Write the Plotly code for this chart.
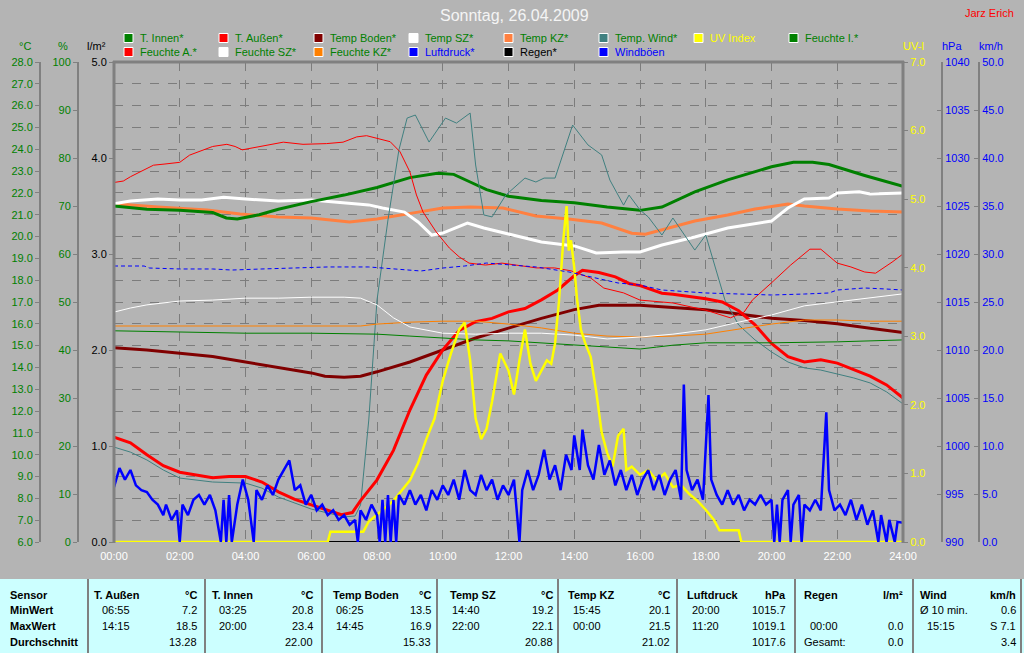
import plotly.graph_objects as go

W, H = 1024, 653

def hrs(ts):
    return [int(t[:2]) + int(t[3:]) / 60 for t in ts]

# ---------------- data ----------------
x_tickvals = [0, 2, 4, 6, 8, 10, 12, 14, 16, 18, 20, 22, 24]
x_ticktext = ["00:00", "02:00", "04:00", "06:00", "08:00", "10:00", "12:00",
              "14:00", "16:00", "18:00", "20:00", "22:00", "24:00"]

t_innen_t = ["00:00","01:00","02:00","03:00","03:25","03:45","04:25","05:00","06:00","07:00","08:00","09:00",
             "09:50","10:20","10:50","11:20","12:00","13:00","14:00","15:00","16:00","16:40","17:40","18:40",
             "20:00","20:40","21:15","21:45","22:50","24:00"]
t_innen_v = [21.4,21.25,21.2,21.1,20.85,20.8,21.0,21.25,21.6,21.9,22.25,22.7,
             22.9,22.85,22.5,22.15,21.85,21.65,21.55,21.35,21.2,21.35,22.05,22.6,
             23.2,23.4,23.4,23.3,22.8,22.3]

t_aussen_t = ["00:00","00:30","01:00","01:30","02:00","03:00","03:30","04:00","04:30","05:00","05:30","06:00",
              "06:30","06:55","07:15","07:30","08:00","08:30","09:00","09:30","10:00","10:30","11:00","11:30",
              "12:00","12:30","13:00","13:30","14:00","14:15","14:45","15:15","15:40","16:00","16:40","17:00",
              "18:00","18:30","19:00","19:30","20:00","20:30","21:00","21:30","22:00","22:30","23:00","23:30","24:00"]
t_aussen_v = [10.8,10.55,10.0,9.5,9.2,8.95,9.0,9.0,8.75,8.3,7.95,7.7,
              7.45,7.25,7.35,7.9,8.85,10.2,12.05,13.65,14.8,15.7,16.1,16.25,
              16.55,16.7,17.1,17.55,18.2,18.45,18.35,18.15,17.85,17.75,17.4,17.35,
              17.15,17.0,16.6,15.95,15.1,14.5,14.25,14.35,14.2,13.9,13.6,13.2,12.6]

t_boden_t = ["00:00","01:00","02:00","03:00","04:00","05:00","06:00","06:25","07:00","07:30","08:00","09:00",
             "10:00","11:00","12:00","13:00","14:00","14:45","16:00","17:00","18:00","19:00","20:00","21:00",
             "22:00","23:00","24:00"]
t_boden_v = [14.9,14.8,14.65,14.5,14.25,14.0,13.75,13.6,13.55,13.6,13.8,14.25,
             14.8,15.35,15.8,16.25,16.65,16.85,16.85,16.75,16.65,16.45,16.25,16.15,
             16.0,15.8,15.6]

t_sz_t = ["00:00","00:30","01:20","02:00","02:40","03:20","04:00","05:00","06:00","07:00","07:45","08:10",
          "08:50","09:15","09:40","10:00","10:45","11:15","12:00","13:00","14:00","14:40","15:30","16:00",
          "16:40","17:40","18:40","19:30","20:00","20:30","21:00","21:45","22:00","22:40","23:00","24:00"]
t_sz_v = [21.5,21.63,21.72,21.67,21.67,21.8,21.72,21.63,21.67,21.54,21.45,21.31,
          21.12,20.67,20.07,20.16,20.62,20.39,20.12,19.75,19.57,19.25,19.29,19.29,
          19.61,19.98,20.39,20.57,20.71,21.31,21.72,21.77,22.0,22.05,21.95,22.0]

t_kz_t = ["00:00","01:20","02:50","03:50","05:00","06:00","07:10","08:00","09:15","10:00","10:50","11:50",
          "12:50","13:50","14:50","15:45","16:10","16:40","17:40","18:40","19:30","20:30","21:00","22:00",
          "23:00","24:00"]
t_kz_v = [21.5,21.35,21.22,21.03,20.9,20.85,20.67,20.8,21.12,21.31,21.35,21.31,
          20.94,20.8,20.62,20.15,20.11,20.3,20.71,20.99,21.26,21.49,21.4,21.26,
          21.17,21.12]

t_wind_t = ["00:00","00:30","01:00","01:30","02:00","03:00","04:00","04:30","05:00","06:00","06:30","07:00",
            "07:20","07:30","07:45","08:00","08:20","08:40","08:55","09:10","09:35","10:05","10:25","10:50",
            "11:00","11:15","11:30","11:55","12:30","12:50","13:05","13:25","13:57","14:25","14:50","15:05",
            "15:30","15:40","16:00","16:15","16:40","17:00","17:40","18:00","18:35","19:00","19:30","20:00",
            "20:30","21:00","21:30","22:00","22:30","23:00","23:30","24:00"]
t_wind_v = [10.35,10.12,9.76,9.3,8.93,8.75,8.7,8.47,8.06,7.51,7.33,7.15,
            7.19,7.7,11.59,17.09,20.76,23.97,25.43,25.57,24.33,25.43,25.2,25.66,
            23.28,20.99,20.9,21.9,22.68,22.5,22.68,22.68,25.11,24.2,23.74,22.59,
            21.44,21.9,21.22,20.9,20.07,20.85,19.38,20.07,17.09,15.95,15.26,14.71,
            14.25,13.98,13.88,13.7,13.52,13.29,12.88,12.33]

uv_t = ["00:00","06:30","06:35","07:35","07:45","08:00","08:30","09:00","09:15","09:30","09:45","10:00",
        "10:15","10:30","10:40","10:50","11:00","11:10","11:20","11:30","11:45","12:00","12:10","12:20",
        "12:30","12:40","12:50","13:00","13:10","13:18","13:25","13:32","13:40","13:46","13:50","13:54",
        "14:00","14:05","14:12","14:20","14:30","14:40","14:50","15:00","15:10","15:20","15:30","15:35",
        "15:45","16:00","16:15","16:30","16:45","17:00","17:15","17:30","17:45","18:00","18:15","18:25",
        "19:00","19:05","24:00"]
uv_v = [0,0,0.15,0.15,0.3,0.4,0.6,0.9,1.15,1.5,1.8,2.35,
        2.75,3.1,3.2,2.65,1.8,1.5,1.65,2.05,2.75,2.5,2.15,2.65,
        3.1,2.6,2.35,2.5,2.65,2.6,2.9,3.5,4.4,4.9,4.25,4.4,
        4.0,3.55,3.1,2.9,2.7,2.2,1.6,1.3,1.1,1.55,1.65,1.05,
        1.1,0.98,1.05,0.9,1.0,0.8,0.83,0.7,0.6,0.47,0.32,0.17,
        0.17,0,0]

f_innen_t = ["00:00","02:00","04:00","06:00","08:00","09:00","10:00","11:00","12:00","13:00","14:00","15:00",
             "16:00","16:30","17:00","18:00","20:00","22:00","24:00"]
f_innen_v = [44.0,43.75,43.5,43.5,43.3,42.9,42.5,42.1,41.9,41.5,41.0,40.6,
             40.2,40.6,41.0,41.5,41.5,41.7,42.1]

f_aussen_t = ["00:00","00:17","00:30","00:54","01:12","01:33","02:00","02:18","02:40","03:00","03:26","03:41",
              "03:54","04:08","04:38","05:09","05:45","06:28","06:58","07:23","07:41","08:05","08:24","08:42",
              "09:00","09:12","09:24","09:48","10:12","10:30","10:48","11:18","11:48","12:51","13:24","13:54",
              "14:30","14:54","15:30","16:00","17:00","18:00","18:45","19:10","19:25","20:00","20:35","21:10",
              "21:30","22:00","22:25","22:50","23:10","23:40","24:00"]
f_aussen_v = [74.9,75.2,76.1,77.5,78.5,78.75,79.1,80.6,81.5,82.4,82.85,82.4,
              81.7,82.0,82.6,83.3,82.85,83.0,83.3,84.4,84.65,84.0,83.4,81.3,
              77.1,72.3,68.75,64.6,61.25,59.4,58.1,57.7,58.1,57.1,57.1,56.5,
              55.0,52.9,51.9,50.4,49.8,48.3,46.7,47.9,50.4,54.0,57.7,61.0,
              61.0,58.1,57.3,56.25,56.0,58.3,60.0]

f_sz_t = ["00:00","00:30","01:00","02:00","03:00","04:00","05:00","06:00","07:00","07:30","08:00","08:30",
          "09:00","09:30","10:00","11:00","12:00","13:00","14:00","15:00","16:00","17:00","18:00","19:00",
          "20:00","21:00","22:00","23:00","24:00"]
f_sz_v = [47.9,48.75,49.4,50.2,50.4,50.8,50.8,51.0,51.0,50.8,49.4,46.7,
          44.8,44.2,43.5,43.3,43.5,43.5,43.1,42.3,42.7,43.3,44.2,45.8,
          47.3,49.2,50.0,50.8,51.7]

f_kz_t = ["00:00","07:30","08:00","09:00","10:00","11:00","12:00","13:00","14:00","15:00","16:00","17:00",
          "18:00","19:00","20:00","21:00","22:00","23:00","24:00"]
f_kz_v = [45.0,45.0,45.4,45.8,46.0,46.0,45.4,44.6,43.5,42.9,42.7,42.9,
          43.3,44.4,45.4,46.25,46.25,46.0,46.0]

druck_t = ["00:00","00:55","01:05","02:00","03:00","03:35","04:30","05:30","06:30","07:45","08:30","09:20",
           "10:00","10:40","11:20","12:00","12:50","13:50","14:50","15:20","16:00","16:40","18:00","19:00",
           "20:00","21:00","21:45","22:00","22:50","23:30","24:00"]
druck_v = [1018.75,1018.75,1018.54,1018.44,1018.44,1018.33,1018.44,1018.54,1018.65,1018.65,1018.44,1018.23,
           1018.54,1018.75,1019.06,1018.85,1018.65,1018.13,1017.4,1016.98,1016.77,1016.25,1015.94,1015.83,
           1015.73,1015.83,1015.94,1016.25,1016.46,1016.35,1016.25]

regen_t = ["00:00", "24:00"]
regen_v = [0.0, 0.0]

boen_t = ["00:00","00:05","00:10","00:20","00:30","00:40","00:50","01:00","01:10","01:20","01:30","01:35",
          "01:45","01:55","02:00","02:05","02:15","02:25","02:35","02:45","02:55","03:05","03:15","03:20",
          "03:25","03:30","03:35","03:45","03:55","04:05","04:15","04:20","04:30","04:40","04:50","05:00",
          "05:10","05:20","05:30","05:40","05:50","06:00","06:10","06:20","06:30","06:40","06:50","07:00",
          "07:10","07:20","07:25","07:30","07:40","07:50","08:00","08:05","08:10","08:15","08:20","08:25",
          "08:30","08:35","08:40","08:50","09:00","09:10","09:20","09:30","09:40","09:50","10:00","10:10",
          "10:20","10:30","10:40","10:50","11:00","11:10","11:20","11:30","11:40","11:50","12:00","12:10",
          "12:20","12:25","12:35","12:45","12:55","13:05","13:15","13:25","13:35","13:45","13:55","14:00",
          "14:10","14:15","14:25","14:35","14:45","14:55","15:05","15:15","15:25","15:35","15:45","15:55",
          "16:05","16:15","16:25","16:35","16:45","16:55","17:05","17:15","17:20","17:25","17:35","17:45",
          "17:55","18:05","18:10","18:20","18:30","18:40","18:50","19:00","19:10","19:20","19:30","19:40",
          "19:50","20:00","20:05","20:10","20:15","20:20","20:30","20:35","20:40","20:50","20:55","21:00",
          "21:10","21:20","21:30","21:40","21:45","21:55","22:05","22:15","22:25","22:35","22:45","22:55",
          "23:05","23:15","23:20","23:30","23:35","23:45","23:50","24:00"]
boen_v = [5.7,6.7,7.7,6.5,7.5,5.9,5.4,5.2,4.4,3.9,2.8,3.9,
          2.3,3.3,0,3.9,2.8,4.4,4.9,3.9,4.9,3.3,0,4.4,
          0,4.9,0,3.9,6.5,4.4,0,5.4,4.4,5.9,4.9,6.5,
          7.5,8.5,5.4,5.9,3.9,4.9,3.3,3.9,2.8,3.3,2.3,2.8,
          1.8,2.3,0,3.3,2.3,3.9,2.8,0,4.4,0,4.9,0,
          4.4,0,4.9,3.9,5.4,3.9,4.9,3.3,5.4,4.4,5.9,4.9,
          6.5,4.4,7.5,5.4,4.9,7.0,5.4,6.5,4.4,5.9,4.9,6.5,
          0,5.4,7.5,5.4,7.0,9.6,6.5,8.0,5.4,9.1,7.5,11.1,
          7.5,11.7,8.0,6.5,10.1,7.0,8.5,5.9,7.5,5.4,7.0,4.9,
          6.5,7.5,5.4,7.0,4.9,6.5,7.5,4.4,16.4,7.5,5.4,6.5,
          4.4,15.3,6.5,4.9,3.9,5.4,3.9,4.9,3.3,4.4,3.9,4.9,
          3.9,4.4,0,3.9,0,4.4,5.4,0,3.9,4.9,0,3.9,
          3.3,4.4,3.3,13.5,5.4,3.3,3.9,2.8,4.4,2.3,3.9,1.8,
          3.3,0,2.8,0,2.3,0,2.1,2.0]

legend_row1 = ["T. Innen*", "T. Außen*", "Temp Boden*", "Temp SZ*", "Temp KZ*", "Temp. Wind*", "UV Index", "Feuchte I.*"]
legend_row1_swatch = ["#008000", "#FF0000", "#800000", "#FFFFFF", "#FF8040", "#408080", "#FFFF00", "#008000"]
legend_row1_text = ["#008000"] * 6 + ["#FFFF00", "#008000"]
legend_row2 = ["Feuchte A.*", "Feuchte SZ*", "Feuchte KZ*", "Luftdruck*", "Regen*", "Windböen"]
legend_row2_swatch = ["#FF0000", "#FFFFFF", "#FF8000", "#0000FF", "#000000", "#0000FF"]
legend_row2_text = ["#008000", "#008000", "#008000", "#0000FF", "#000000", "#0000FF"]

table_headers = ["Sensor", "T. Außen", "T. Innen", "Temp Boden", "Temp SZ", "Temp KZ", "Luftdruck", "Regen", "Wind"]
table_units = ["", "°C", "°C", "°C", "°C", "°C", "hPa", "l/m²", "km/h"]
row_labels = ["MinWert", "MaxWert", "Durchschnitt"]
min_time = ["06:55", "03:25", "06:25", "14:40", "15:45", "20:00", "", "Ø 10 min."]
min_val = ["7.2", "20.8", "13.5", "19.2", "20.1", "1015.7", "", "0.6"]
max_time = ["14:15", "20:00", "14:45", "22:00", "00:00", "11:20", "00:00", "15:15"]
max_val = ["18.5", "23.4", "16.9", "22.1", "21.5", "1019.1", "0.0", "S 7.1"]
avg_label = ["", "", "", "", "", "", "Gesamt:", ""]
avg_val = ["13.28", "22.00", "15.33", "20.88", "21.02", "1017.6", "0.0", "3.4"]

# ---------------- figure ----------------
FONT = "Liberation Sans, Arial, sans-serif"
BG = "#B4B4B4"
GRID = "#7C7C7C"

def px(x):
    return x / W

def py(y):
    return 1 - y / H

fig = go.Figure()

def add(ts, vs, color, width, axis, dash=None):
    fig.add_trace(go.Scatter(x=hrs(ts), y=vs, mode="lines", yaxis=axis,
                             line=dict(color=color, width=width, dash=dash),
                             showlegend=False, hoverinfo="skip"))

add(f_innen_t, f_innen_v, "#008000", 1, "y2")
add(f_kz_t, f_kz_v, "#FF8000", 1, "y2")
add(f_sz_t, f_sz_v, "#FFFFFF", 1, "y2")
add(f_aussen_t, f_aussen_v, "#FF0000", 1, "y2")
add(druck_t, druck_v, "#0000FF", 1, "y5", dash="4px,3px")
add(t_boden_t, t_boden_v, "#800000", 3, "y")
add(t_kz_t, t_kz_v, "#FF8040", 3, "y")
add(t_sz_t, t_sz_v, "#FFFFFF", 3, "y")
add(t_innen_t, t_innen_v, "#008000", 3, "y")
add(t_wind_t, t_wind_v, "#408080", 1, "y")
add(t_aussen_t, t_aussen_v, "#FF0000", 3, "y")
add(regen_t, regen_v, "#000000", 2, "y3")
add(uv_t, uv_v, "#FFFF00", 2.5, "y4")
add(boen_t, boen_v, "#0000FF", 2.5, "y6")

top, bot = 62, 542
dom = [py(bot), py(top)]
axfont = dict(family=FONT, size=11)

def yax(rng, dtick, pos, side, color, fmt, grid=False, ticks="outside", overlay=True, tick0=None):
    d = dict(range=rng, dtick=dtick, anchor="free", position=pos, side=side, automargin=False,
             showline=True, linecolor="#808080", linewidth=2, ticks=ticks, ticklen=4,
             tickcolor="#808080", tickwidth=1, zeroline=False, showgrid=grid,
             tickformat=fmt, tickfont=dict(axfont, color=color), fixedrange=True)
    if tick0 is not None:
        d["tick0"] = tick0
    if grid:
        d.update(gridcolor=GRID, griddash="dash", gridwidth=1)
    if overlay:
        d["overlaying"] = "y"
    else:
        d["domain"] = dom
    return d

fig.update_layout(
    width=W, height=H, autosize=False,
    margin=dict(l=0, r=0, t=0, b=0, pad=0, autoexpand=False),
    paper_bgcolor=BG, plot_bgcolor=BG,
    xaxis=dict(domain=[px(114), px(903)], range=[0, 24], tickvals=x_tickvals, ticktext=x_ticktext,
               automargin=False, showgrid=True, gridcolor=GRID, griddash="dash", gridwidth=1, zeroline=False,
               showline=False, ticks="", ticklabelstandoff=6,
               tickfont=dict(axfont, color="#FFFFFF"), fixedrange=True),
    yaxis=yax([6, 28], 1, px(40), "left", "#008000", ".1f", grid=True, overlay=False, tick0=6),
    yaxis2=yax([0, 100], 10, px(78), "left", "#008000", "d"),
    yaxis3=yax([0, 5], 1, px(114), "left", "#000000", ".1f"),
    yaxis4=yax([0, 7], 1, px(903), "right", "#FFFF00", ".1f"),
    yaxis5=yax([990, 1040], 5, px(942), "right", "#0000FF", "d", ticks="inside"),
    yaxis6=yax([0, 50], 5, px(979), "right", "#0000FF", ".1f", ticks="inside"),
)

shapes = []
# plot frame (left, top, right)
for (x0, y0, x1, y1) in [(114, 61, 114, 543), (113, 62, 904, 62), (903, 61, 903, 543)]:
    shapes.append(dict(type="line", xref="paper", yref="paper", x0=px(x0), y0=py(y0), x1=px(x1), y1=py(y1),
                       line=dict(color="#808080", width=3), layer="above"))

annotations = []
# title and author
annotations.append(dict(text="Sonntag, 26.04.2009", x=px(514), y=py(15), xref="paper", yref="paper",
                        showarrow=False, font=dict(family=FONT, size=16, color="#F4F4F4"),
                        xanchor="center", yanchor="middle"))
annotations.append(dict(text="Jarz Erich", x=px(1016), y=py(13), xref="paper", yref="paper",
                        showarrow=False, font=dict(family=FONT, size=11, color="#FF0000"),
                        xanchor="right", yanchor="middle"))
# axis unit titles
for txt_, xc, col in [("°C", 25, "#008000"), ("%", 63, "#008000"), ("l/m²", 96, "#000000"),
                      ("UV-I", 913, "#FFFF00"), ("hPa", 952, "#0000FF"), ("km/h", 991, "#0000FF")]:
    annotations.append(dict(text=txt_, x=px(xc), y=py(46), xref="paper", yref="paper", showarrow=False,
                            font=dict(family=FONT, size=11, color=col), xanchor="center", yanchor="middle"))

# legend
def legend_row(names, sw, tc, yc):
    for i, (n, s, c) in enumerate(zip(names, sw, tc)):
        x0 = 124 + 95 * i
        shapes.append(dict(type="rect", xref="paper", yref="paper", x0=px(x0), x1=px(x0 + 9),
                           y0=py(yc + 4.5), y1=py(yc - 4.5), fillcolor=s, line=dict(color="#FFFFFF", width=1)))
        annotations.append(dict(text=n, x=px(x0 + 14), y=py(yc), xref="paper", yref="paper", showarrow=False,
                                font=dict(family=FONT, size=11, color=c), xanchor="left", yanchor="middle"))

legend_row(legend_row1, legend_row1_swatch, legend_row1_text, 38)
legend_row(legend_row2, legend_row2_swatch, legend_row2_text, 52)

# statistics table
tbl_top = 579
shapes.append(dict(type="rect", xref="paper", yref="paper", x0=0, x1=1, y0=0, y1=py(tbl_top),
                   fillcolor="#CCFFFF", line=dict(width=0), layer="below"))
for xs in [88, 205, 322, 437, 558, 677, 795, 913, 1021]:
    shapes.append(dict(type="line", xref="paper", yref="paper", x0=px(xs), x1=px(xs), y0=0, y1=py(tbl_top),
                       line=dict(color="#808080", width=2)))

rows_y = [595, 610, 626, 642]
col_left = [8, 92, 210, 331, 448, 566, 685, 802, 918]
col_right = [None, 199, 315, 433, 555, 672, 788, 905, 1018]
time_x = [100, 217, 334, 450, 571, 690, 808, 925]

def txt(t, x, y, anchor, bold=False):
    if t == "":
        return
    annotations.append(dict(text=("<b>%s</b>" % t) if bold else t, x=px(x), y=py(y), xref="paper", yref="paper",
                            showarrow=False, font=dict(family=FONT, size=11, color="#000000"),
                            xanchor=anchor, yanchor="middle"))

for i, h in enumerate(table_headers):
    txt(h, col_left[i], rows_y[0], "left", True)
    if col_right[i] is not None:
        txt(table_units[i], col_right[i], rows_y[0], "right", True)
for j, r in enumerate(row_labels):
    txt(r, col_left[0], rows_y[j + 1], "left", True)
for k in range(8):
    tx = time_x[k]
    if min_time[k].startswith("Ø"):
        tx = col_left[k + 1]
    txt(min_time[k], tx, rows_y[1], "left")
    txt(min_val[k], col_right[k + 1], rows_y[1], "right")
    txt(max_time[k], time_x[k], rows_y[2], "left")
    txt(max_val[k], col_right[k + 1], rows_y[2], "right")
    txt(avg_label[k], col_left[k + 1], rows_y[3], "left")
    txt(avg_val[k], col_right[k + 1], rows_y[3], "right")

fig.update_layout(shapes=shapes, annotations=annotations)

fig.write_html("out.html", config={"displayModeBar": False, "staticPlot": True},
               post_script="document.body.style.margin='0';document.body.style.overflow='hidden';")
